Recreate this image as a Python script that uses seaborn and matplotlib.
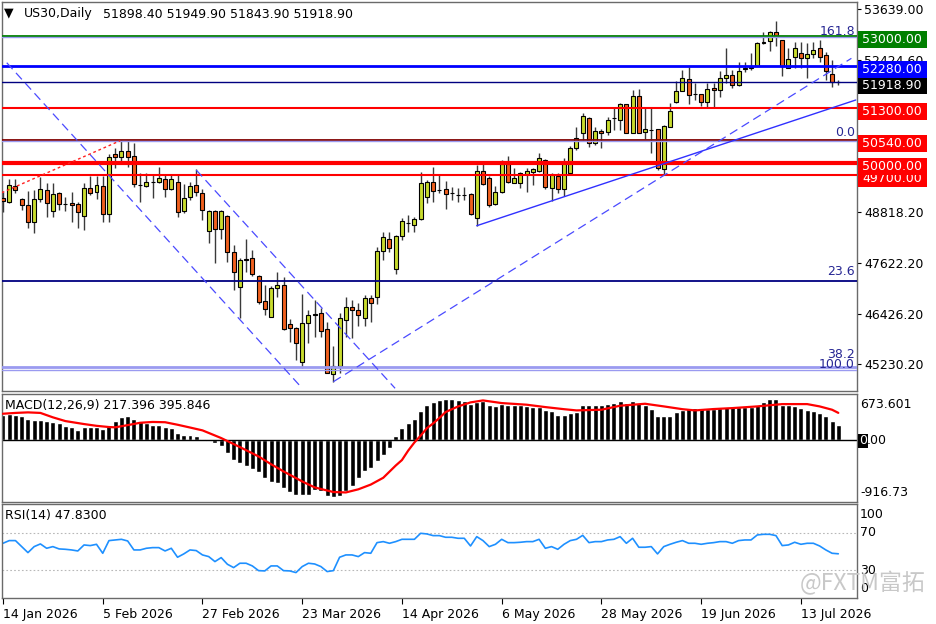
import matplotlib
matplotlib.use("Agg")
import matplotlib.pyplot as plt
from matplotlib.patches import Rectangle
import numpy as np
import pandas as pd
import seaborn as sns

sns.set_theme(style="white")
plt.rcParams['font.family'] = ['DejaVu Sans', 'Noto Sans CJK SC']

# ---------------- data ----------------
dates = pd.bdate_range('2026-01-14', periods=135)

opens = [49169, 49074, 49453, 49131, 48996, 48585, 49145, 49351, 48854, 49274,
         49025, 49036, 49012, 48742, 49391, 49296, 49446, 48783, 50196, 50125,
         50274, 50156, 49475, 49453, 49535, 49532, 49604, 49367, 49546, 48854,
         49178, 49469, 49287, 48388, 48854, 48421, 48735, 47875, 47047, 47715,
         47733, 47314, 46722, 46351, 47030, 47101, 46171, 46090, 45271, 46194,
         46410, 46431, 46052, 44994, 45190, 46272, 46587, 46509, 46328, 46786,
         46825, 47906, 48200, 47480, 48269, 48565, 48522, 48657, 49178, 49532,
         49355, 49367, 49280, 49235, 49230, 49249, 48696, 49801, 49628, 49012,
         49296, 49959, 49524, 49510, 49727, 49782, 49806, 50061, 49391, 49682,
         49367, 49744, 50338, 50710, 51064, 50459, 50748, 50731, 51045, 51008,
         51380, 50710, 51577, 50731, 50775, 50788, 49839, 50850, 51435, 51700,
         51972, 51620, 51624, 51442, 51759, 51724, 51996, 52074, 51837, 52225,
         52233, 52287, 52835, 52886, 53099, 52903, 52247, 52493, 52602, 52484,
         52564, 52706, 52548, 52098, 51898.4]

highs = [49303, 49604, 49604, 49169, 49334, 49351, 49663, 49510, 49510, 49300,
         49192, 49310, 49060, 49524, 49682, 49682, 49682, 50203, 50338, 50535,
         50535, 50457, 49744, 49744, 49720, 49903, 49720, 49720, 49720, 49486,
         49532, 49839, 49367, 48870, 48870, 48870, 48750, 48048, 47733, 48200,
         47930, 47338, 47101, 47071, 47416, 47284, 46289, 46100, 46888, 46509,
         46746, 46550, 46231, 45664, 46431, 46825, 46746, 46668, 46864, 46864,
         48008, 48363, 48349, 48280, 48681, 48759, 48720, 49768, 49588, 49903,
         49706, 49564, 49429, 49391, 49429, 49287, 49943, 50021, 49682, 49453,
         50061, 50156, 49865, 49782, 49865, 49865, 50234, 50085, 49758, 49744,
         50105, 50400, 50850, 51167, 51088, 50850, 50788, 51088, 51286, 51404,
         51395, 51719, 51742, 51286, 51286, 50800, 50885, 51411, 51932, 52192,
         52271, 51885, 51630, 51885, 51885, 52169, 52713, 52192, 52375, 52382,
         52588, 52862, 53085, 53110, 53360, 52910, 52720, 52862, 52862, 52825,
         52862, 52903, 52626, 52429, 51949.9]

lows = [48837, 49043, 49274, 48877, 48443, 48339, 49074, 48720, 48720, 48877,
        48854, 48599, 48443, 48404, 49232, 49131, 48599, 48599, 49872, 50021,
        49903, 49429, 49074, 49429, 49169, 49510, 49192, 49351, 48720, 48801,
        49114, 49216, 48640, 48096, 47615, 48200, 47653, 46983, 46313, 47416,
        47314, 46644, 46391, 46340, 46825, 46036, 45759, 45325, 45129, 45721,
        45877, 45877, 45010, 44811, 45010, 45863, 45853, 46130, 46130, 46218,
        46644, 47693, 47890, 47362, 48167, 48349, 48349, 48640, 49036, 49074,
        49274, 48894, 49114, 49074, 49114, 48760, 48505, 49470, 48941, 48990,
        49274, 49510, 49510, 49391, 49310, 49469, 49782, 49367, 49090, 49287,
        49209, 49706, 50298, 50535, 50376, 50416, 50338, 50653, 50772, 50772,
        50694, 50694, 50694, 50558, 50220, 49824, 49706, 50840, 51404, 51690,
        51387, 51482, 51340, 51328, 51328, 51553, 51885, 51766, 51806, 52145,
        52192, 52280, 52801, 52642, 52761, 52050, 52233, 52247, 52247, 51996,
        52469, 52389, 51956, 51783, 51843.9]

closes = [49097, 49469, 49351, 48996, 48585, 49131, 49367, 49036, 49249, 49012,
          49015, 48988, 48837, 49391, 49274, 49469, 48783, 50125, 50139, 50274,
          50125, 49486, 49465, 49546, 49530, 49640, 49367, 49604, 48837, 49154,
          49453, 49310, 48877, 48854, 48421, 48854, 47875, 47416, 47693, 47705,
          47355, 46706, 46526, 47030, 47101, 46059, 46076, 45721, 46194, 46391,
          46400, 46012, 45025, 45190, 46313, 46587, 46509, 46391, 46786, 46668,
          47906, 48245, 47970, 48269, 48617, 48560, 48657, 49524, 49546, 49334,
          49345, 49249, 49270, 49230, 49235, 48775, 49801, 49486, 48996, 49296,
          49959, 49546, 49640, 49744, 49806, 49839, 50105, 49415, 49706, 49367,
          49997, 50338, 50589, 51103, 50471, 50748, 50710, 51008, 51055, 51380,
          50710, 51577, 50710, 50788, 50770, 49865, 50873, 51210, 51702, 51996,
          51600, 51615, 51442, 51754, 51719, 52015, 52074, 51837, 52169, 52232,
          52271, 52825, 52845, 53099, 52997, 52287, 52446, 52706, 52469, 52564,
          52666, 52507, 52169, 51915, 51918.9]

macd_hist = [368, 378, 368, 344, 304, 295, 295, 270, 255, 246,
             206, 187, 147, 182, 182, 187, 157, 196, 270, 329,
             344, 304, 270, 246, 221, 221, 182, 172, 98, 74,
             64, 49, 5, -25, -49, -98, -196, -304, -344, -393,
             -427, -481, -565, -628, -638, -712, -776, -810, -810, -810,
             -737, -761, -825, -845, -825, -761, -687, -565, -467, -417,
             -319, -221, -123, 49, 172, 246, 304, 417, 506, 555,
             589, 599, 599, 589, 570, 530, 550, 574, 506, 491,
             530, 516, 516, 506, 491, 481, 481, 442, 417, 368,
             368, 393, 403, 506, 506, 506, 516, 525, 540, 565,
             540, 565, 540, 516, 452, 354, 354, 354, 403, 432,
             466, 466, 466, 452, 452, 466, 481, 481, 481, 481,
             481, 516, 550, 599, 599, 516, 516, 501, 466, 442,
             427, 393, 344, 270, 217.396]

signal_idx = [0, 2, 4, 6, 8, 10, 13, 15, 17, 18,
              20, 22, 24, 26, 28, 30, 32, 35, 38, 41,
              43, 45, 48, 50, 53, 55, 57, 59, 61, 63,
              64, 65, 66, 67, 68, 69, 70, 71, 73, 75,
              77, 80, 84, 87, 90, 92, 96, 99, 103, 106,
              109, 111, 114, 117, 121, 125, 129, 131, 133, 134]
signal_val = [383, 395, 403, 395, 330, 275, 231, 205, 187, 183,
              215, 250, 262, 258, 221, 180, 138, 25, -108, -246,
              -360, -466, -614, -702, -770, -776, -730, -660, -560, -380,
              -299, -160, -40, 60, 170, 240, 320, 408, 490, 550,
              579, 540, 516, 481, 450, 432, 442, 501, 530, 491,
              450, 432, 452, 466, 491, 525, 525, 491, 442, 395.846]

rsi = [59.2, 62.1, 62.1, 55.6, 49.1, 55.6, 58.5, 53.8, 55.6, 53.1,
       52.7, 52.0, 50.9, 57.4, 56.7, 58.1, 48.4, 62.1, 62.8, 63.5,
       61.7, 52.0, 52.0, 53.8, 54.5, 54.5, 50.9, 53.8, 44.1, 47.7,
       52.0, 51.3, 46.6, 44.8, 39.4, 43.7, 36.5, 32.9, 37.6, 37.6,
       34.7, 29.6, 29.3, 34.7, 34.7, 29.6, 29.3, 27.5, 34.0, 37.6,
       36.8, 34.0, 28.6, 29.6, 44.1, 46.6, 46.6, 44.8, 49.1, 48.4,
       59.9, 61.0, 59.2, 61.0, 63.5, 63.5, 63.5, 70.0, 69.3, 67.5,
       67.5, 65.7, 65.7, 64.6, 64.6, 56.3, 66.4, 62.1, 55.6, 58.1,
       63.5, 59.9, 59.9, 60.3, 61.0, 61.0, 63.5, 53.8, 55.6, 52.7,
       58.1, 62.1, 63.5, 67.8, 59.9, 61.0, 61.0, 62.8, 63.5, 66.4,
       59.2, 64.6, 54.9, 54.9, 55.6, 47.7, 55.6, 58.1, 60.3, 62.1,
       59.2, 59.2, 58.1, 59.2, 59.9, 61.0, 61.0, 59.2, 62.1, 62.8,
       62.8, 68.2, 68.9, 68.9, 67.5, 56.7, 57.4, 60.3, 58.1, 59.2,
       59.2, 56.3, 52.0, 48.4, 47.83]

# horizontal levels: (price, colour, width)
levels = [(53000, '#008000', 2.0), (52967, '#9a9af0', 1.0),
          (52280, '#0000ff', 2.0), (51918.9, '#000080', 1.0),
          (51300, '#ff0000', 1.5), (50540, '#800000', 1.3),
          (50515, '#9a9af0', 1.0), (50000, '#ff0000', 3.0),
          (49700, '#ff0000', 1.5), (47196, '#000080', 1.3),
          (45171, '#9a9af0', 2.0), (45088, '#9a9af0', 1.0)]

fib_labels = [('161.8', 52967), ('0.0', 50515), ('23.6', 47196),
              ('38.2', 45171), ('100.0', 45088)]

# price boxes on the right axis: (price, background)
price_boxes = [(49700, '#ff0000'), (50000, '#ff0000'), (50540, '#ff0000'),
               (51300, '#ff0000'), (51918.9, '#000000'), (52280, '#0000ff'),
               (53000, '#008000')]

# drawn trend lines: ((bar, price), (bar, price), style)
trend_lines = [((0.6, 52365), (48.0, 44655), 'dash'),
               ((31.0, 49824), (62.9, 44655), 'dash'),
               ((53.0, 44811), (136.1, 52469), 'dash'),
               ((76.0, 48505), (136.8, 51482), 'solid'),
               ((-0.2, 49287), (18.8, 50518), 'reddot')]

price_ticks = [53639.00, 52424.60, 50014.20, 48818.20, 47622.20, 46426.20, 45230.20]

# ---------------- figure ----------------
W, H = 936, 624
fig = plt.figure(figsize=(W / 100, H / 100), dpi=100)
fig.patch.set_facecolor('white')


def fx(px):
    return px / W


def fy(py):
    return 1 - py / H


def add_ax(top, bottom, left=2, right=857):
    return fig.add_axes([fx(left), fy(bottom), (right - left) / W, (bottom - top) / H])


ax = add_ax(2, 391)
axm = add_ax(394, 502)
axr = add_ax(504, 598)

x = np.arange(len(opens))
XL = (-0.16, 137.0)
YTOP, YBOT = 53803, 44591

for a in (ax, axm, axr):
    a.set_xlim(*XL)
    a.set_facecolor('white')
    for s in a.spines.values():
        s.set_color('#6a6a6a')
        s.set_linewidth(1.0)
    a.grid(False)

df = pd.DataFrame({'x': x, 'open': opens, 'high': highs, 'low': lows, 'close': closes})
bull = df['close'] >= df['open']
BULL, BEAR = '#c8dc2e', '#f0601e'

ax.vlines(df['x'], df['low'], df['high'], color='#3a3a3a', lw=1.0, zorder=3)
ax.bar(df['x'], (df['close'] - df['open']).abs().clip(lower=1),
       bottom=np.minimum(df['open'], df['close']), width=0.64,
       color=np.where(bull, BULL, BEAR), edgecolor='black', linewidth=0.8, zorder=4)

for p, c, w in levels:
    ax.axhline(p, color=c, lw=w, zorder=5)

for (x0, y0), (x1, y1), st in trend_lines:
    if st == 'dash':
        ax.plot([x0, x1], [y0, y1], color='#4a4aff', lw=0.9, ls=(0, (7, 4)), zorder=5)
    elif st == 'solid':
        ax.plot([x0, x1], [y0, y1], color='#3030ff', lw=1.0, zorder=5)
    else:
        ax.plot([x0, x1], [y0, y1], color='#ff2020', lw=1.0, ls=(0, (2, 2)), zorder=5)

ax.set_ylim(YBOT, YTOP)
ax.set_xticks([])
ax.yaxis.tick_right()
ax.set_yticks(price_ticks)
ax.set_yticklabels([f'{v:.2f}' for v in price_ticks])
ax.tick_params(axis='y', direction='out', length=3, width=0.8, pad=2,
               labelsize=9, colors='black')


def py_of(price):
    return 2 + (YTOP - price) / (YTOP - YBOT) * 389


for lab, p in fib_labels:
    off = {'161.8': -6, '0.0': -8, '23.6': -9, '38.2': -12, '100.0': -6}[lab]
    fig.text(fx(855), fy(py_of(p) + off), lab, color='#262693', fontsize=9,
             ha='right', va='center')

# price boxes
z = 10
for p, bg in price_boxes:
    yc = py_of(p) + 3.5
    fig.patches.append(Rectangle((fx(858), fy(yc + 8.5)), 69 / W, 17 / H,
                                 transform=fig.transFigure, facecolor=bg,
                                 edgecolor='none', zorder=z))
    fig.text(fx(862), fy(yc), f'{p:.2f}', color='white', fontsize=9,
             ha='left', va='center', zorder=z + 1)
    z += 2

# title
fig.text(fx(4), fy(13), '\u25bc', fontsize=9, color='black', va='center')
fig.text(fx(24), fy(14), 'US30,Daily', fontsize=9, color='black', va='center')
fig.text(fx(103), fy(14), '51898.40 51949.90 51843.90 51918.90', fontsize=9,
         color='black', va='center')

# ---------------- MACD ----------------
axm.bar(x, macd_hist, width=0.8, color='black', zorder=2)
axm.axhline(0, color='black', lw=1.0, zorder=2)
sns.lineplot(x=signal_idx, y=signal_val, ax=axm, color='#ff0000', lw=1.6, zorder=3)
axm.set_ylim(-916.73, 673.601)
axm.set_xticks([])
axm.set_yticks([])
axm.set_xlabel('')
axm.set_ylabel('')
fig.text(fx(5), fy(405), 'MACD(12,26,9) 217.396 395.846', fontsize=9, color='black', va='center')
fig.text(fx(860), fy(404), '673.601', fontsize=9, color='black', va='center')
fig.text(fx(859), fy(441), '0', fontsize=9, color='white', va='center',
         bbox=dict(facecolor='black', edgecolor='none', pad=0.6))
fig.text(fx(867), fy(441), '.00', fontsize=9, color='black', va='center')
fig.text(fx(860), fy(493), '-916.73', fontsize=9, color='black', va='center')

# ---------------- RSI ----------------
sns.lineplot(x=x, y=rsi, ax=axr, color='#1e90ff', lw=1.2)
for lv in (70, 30):
    axr.axhline(lv, color='#b8b8b8', lw=0.8, ls=(0, (1.5, 2)), zorder=1)
axr.set_ylim(0, 101.7)
axr.set_yticks([])
axr.set_xlabel('')
axr.set_ylabel('')
fig.text(fx(5), fy(516), 'RSI(14) 47.8300', fontsize=9, color='black', va='center')
for lab, yy in (('100', 515), ('70', 533), ('30', 570), ('0', 588)):
    fig.text(fx(860), fy(yy), lab, fontsize=9, color='black', va='center')

tick_idx = list(range(0, 135, 16))
axr.set_xticks(tick_idx)
axr.set_xticklabels([f"{dates[i].day} {dates[i].strftime('%b %Y')}" for i in tick_idx],
                    ha='left')
axr.tick_params(axis='x', direction='out', length=4, width=0.8, pad=3,
                labelsize=9, colors='black', bottom=True)

# watermark
fig.text(fx(800), fy(583), '@FXTM富拓', fontsize=16.5, color='#c8c8c8', va='center',
         family=['Noto Sans CJK SC', 'DejaVu Sans'], zorder=20)

fig.savefig('out.png', dpi=100, facecolor='white')
